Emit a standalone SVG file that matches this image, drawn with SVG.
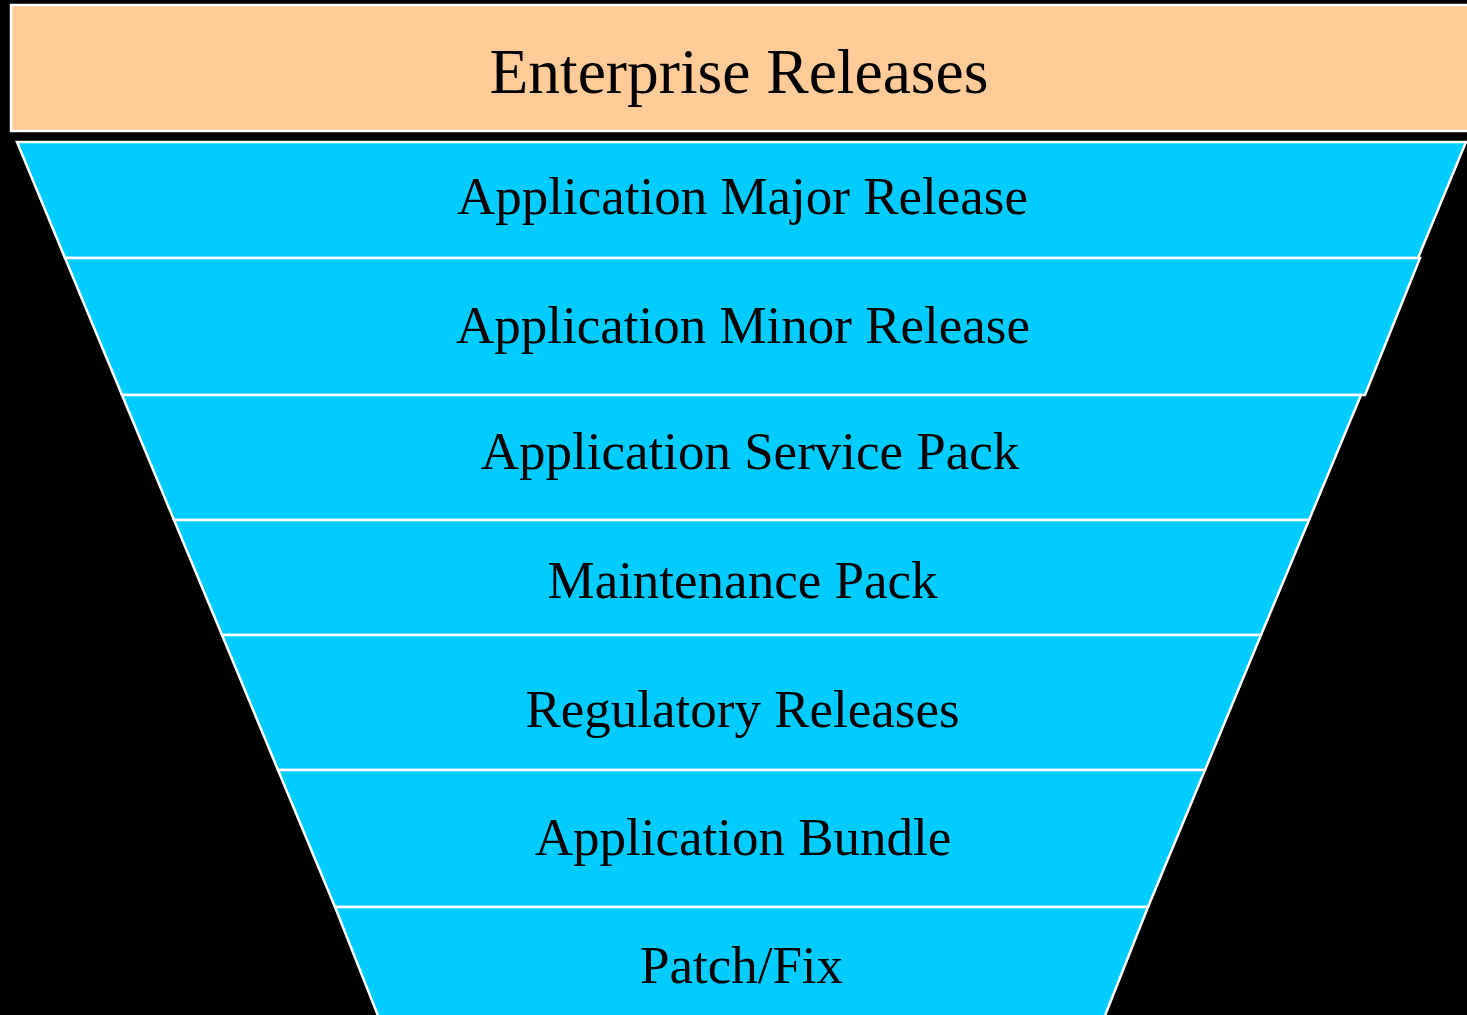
<svg xmlns="http://www.w3.org/2000/svg" width="1467" height="1015" viewBox="0 0 1467 1015">
  <style>
    .header { fill: #FFCC99; stroke: #FFFFFF; stroke-width: 2.5; }
    .stage { fill: #00CCFF; stroke: #FFFFFF; stroke-width: 2.5; stroke-linejoin: miter; }
    .title { font-family: "Liberation Serif", "Times New Roman", serif; font-size: 63.5px; fill: #000000; text-anchor: middle; }
    .label { font-family: "Liberation Serif", "Times New Roman", serif; font-size: 53px; fill: #000000; text-anchor: middle; }
  </style>
  <rect x="0" y="0" width="1467" height="1015" fill="#000000"/>

  <g id="enterprise-releases">
    <rect class="header" x="11" y="5" width="1460" height="126"/>
    <text class="title" x="739" y="93">Enterprise Releases</text>
  </g>

  <g id="connectors"></g>

  <g id="application-major-release">
    <polygon class="stage" points="17,142 1466,142 1418,258 65,258"/>
    <text class="label" x="742.5" y="214">Application Major Release</text>
  </g>
  <g id="application-minor-release">
    <polygon class="stage" points="65,258 1420,258 1365,395 122,395"/>
    <text class="label" x="743" y="343">Application Minor Release</text>
  </g>
  <g id="application-service-pack">
    <polygon class="stage" points="122,395 1361,395 1309,520 174,520"/>
    <text class="label" x="750" y="469">Application Service Pack</text>
  </g>
  <g id="maintenance-pack">
    <polygon class="stage" points="174,520 1309,520 1261,635 222,635"/>
    <text class="label" x="742.5" y="598">Maintenance Pack</text>
  </g>
  <g id="regulatory-releases">
    <polygon class="stage" points="222,635 1261,635 1205,770 278,770"/>
    <text class="label" x="742.5" y="727">Regulatory Releases</text>
  </g>
  <g id="application-bundle">
    <polygon class="stage" points="278,770 1205,770 1148,907 335,907"/>
    <text class="label" x="743" y="855">Application Bundle</text>
  </g>
  <g id="patch-fix">
    <polygon class="stage" points="335,907 1148,907 1093,1046 390,1046"/>
    <text class="label" x="741.5" y="983">Patch/Fix</text>
  </g>
</svg>
